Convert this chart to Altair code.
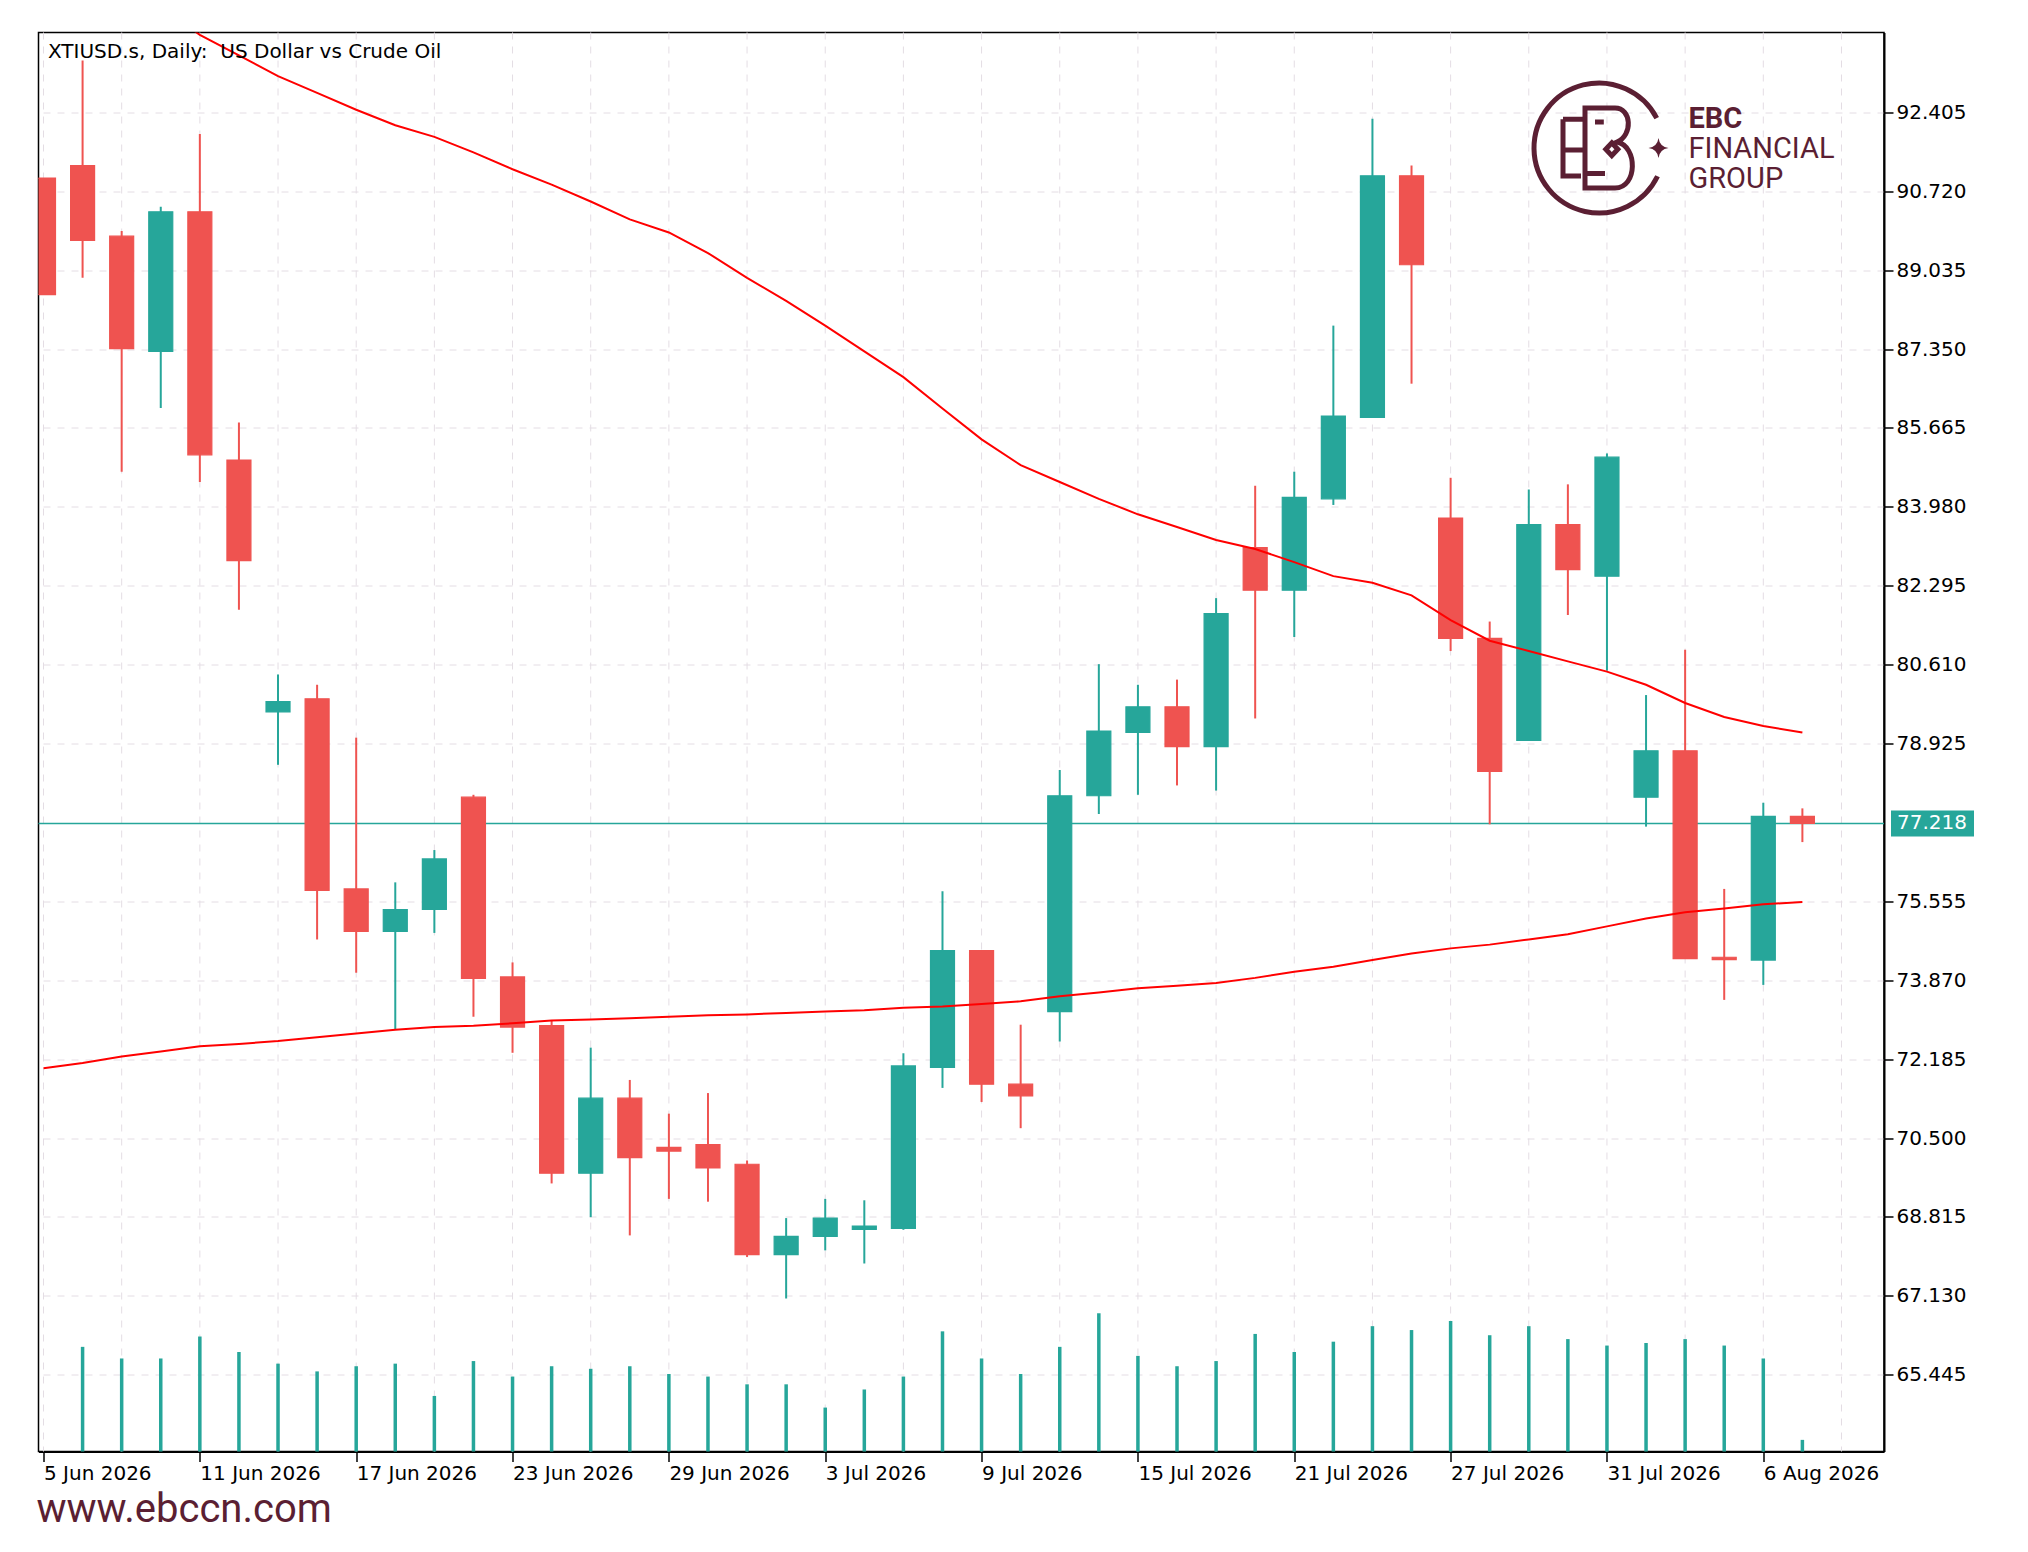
import json
import pandas as pd
import altair as alt

# ---------------- data ----------------
dates = [f"{d.day} {d.strftime('%b %Y')}" for d in pd.bdate_range("2026-06-05", periods=46)]

opens = [91.00, 91.27, 89.76, 87.30, 90.28, 84.98, 79.60, 79.88, 75.82, 74.91,
         75.38, 77.78, 73.94, 72.90, 69.75, 71.35, 70.30, 70.36, 69.94, 68.01,
         68.40, 68.55, 68.57, 72.01, 74.50, 71.65, 73.20, 77.81, 79.16, 79.71,
         78.86, 83.11, 82.20, 84.15, 85.89, 91.05, 83.74, 81.17, 78.99, 83.60,
         82.50, 77.78, 78.77, 74.36, 74.30, 77.37]
highs = [91.00, 93.51, 89.87, 90.39, 91.94, 85.78, 80.40, 80.18, 79.05, 75.96,
         76.65, 77.83, 74.25, 73.01, 72.43, 71.74, 71.02, 71.46, 70.02, 68.79,
         69.20, 69.17, 72.31, 75.77, 74.50, 72.92, 78.36, 80.62, 80.18, 80.29,
         82.03, 84.43, 84.73, 87.85, 92.27, 91.27, 84.60, 81.53, 84.35, 84.46,
         85.12, 79.96, 80.93, 75.82, 77.66, 77.54]
lows = [88.51, 88.87, 84.73, 86.09, 84.51, 81.78, 78.47, 74.74, 74.03, 72.81,
        74.88, 73.09, 72.32, 69.53, 68.81, 68.42, 69.20, 69.14, 67.96, 67.07,
        68.10, 67.82, 68.54, 71.57, 71.27, 70.71, 72.56, 77.42, 77.83, 78.03,
        77.92, 79.46, 81.20, 84.02, 85.89, 86.61, 80.90, 77.20, 78.99, 81.67,
        80.48, 77.15, 74.33, 73.45, 73.77, 76.82]
closes = [88.51, 89.67, 87.36, 90.28, 85.09, 82.83, 79.82, 75.79, 74.91, 75.38,
          76.46, 73.91, 72.87, 69.75, 71.35, 70.08, 70.22, 69.86, 68.01, 68.40,
          68.79, 68.62, 72.04, 74.50, 71.65, 71.40, 77.81, 79.19, 79.71, 78.86,
          81.70, 82.20, 84.18, 85.92, 91.05, 89.15, 81.17, 78.33, 83.60, 82.64,
          85.04, 78.77, 74.33, 74.31, 77.37, 77.218]

ma_slow = [None, None, None, 94.67, 94.06, 93.62, 93.18, 92.82, 92.46, 92.13,
           91.88, 91.55, 91.19, 90.86, 90.50, 90.12, 89.84, 89.40, 88.87, 88.38,
           87.85, 87.30, 86.75, 86.08, 85.42, 84.87, 84.51, 84.15, 83.82, 83.55,
           83.27, 83.08, 82.80, 82.50, 82.36, 82.09, 81.56, 81.12, 80.90, 80.68,
           80.46, 80.18, 79.79, 79.49, 79.30, 79.16]
ma_long = [71.99, 72.10, 72.24, 72.35, 72.46, 72.51, 72.57, 72.65, 72.73, 72.81,
           72.87, 72.90, 72.95, 73.01, 73.03, 73.06, 73.09, 73.12, 73.14, 73.17,
           73.20, 73.23, 73.28, 73.31, 73.36, 73.42, 73.53, 73.61, 73.70, 73.75,
           73.81, 73.92, 74.05, 74.16, 74.30, 74.44, 74.55, 74.63, 74.74, 74.85,
           75.02, 75.19, 75.32, 75.40, 75.49, 75.54]

volumes = [None, 81, 72, 72, 89, 77, 68, 62, 66, 68,
           43, 70, 58, 66, 64, 66, 60, 58, 52, 52,
           34, 48, 58, 93, 72, 60, 81, 107, 74, 66,
           70, 91, 77, 85, 97, 94, 101, 90, 97, 87,
           82, 84, 87, 82, 72, 9]

price_ticks = [92.405, 90.720, 89.035, 87.350, 85.665, 83.980, 82.295, 80.610,
               78.925, 77.240, 75.555, 73.870, 72.185, 70.500, 68.815, 67.130, 65.445]
price_ticks = [t for t in price_ticks if abs(t - 77.240) > 1e-9]  # hidden by the price tag
label_every = 4
grid_every = 2

title_text = "XTIUSD.s, Daily:\u00a0\u00a0US Dollar vs Crude Oil"
site_text = "www.ebccn.com"
brand_lines = ["EBC", "FINANCIAL", "GROUP"]

# ---------------- styling ----------------
W, H = 1845.5, 1419
UP, DOWN = "#26a69a", "#ef5350"
MA_COLOR = "#ff0000"
GRID = "#e4dde4"
BRAND = "#5b1f33"
FONT = "DejaVu Sans"

n = len(closes)
df = pd.DataFrame({"i": range(n), "date": dates, "open": opens, "high": highs,
                   "low": lows, "close": closes, "ma_slow": ma_slow, "ma_long": ma_long})
df["dir"] = ["up" if c >= o else "down" for o, c in zip(opens, closes)]
vol_df = pd.DataFrame({"i": range(n), "v": volumes}).dropna()
grid_df = pd.DataFrame({"g": list(range(0, 48, grid_every))})
last_close = closes[-1]

xscale = alt.Scale(domain=[0, 46.96], nice=False, zero=False)
label_expr = json.dumps(dates) + "[datum.value]"
xaxis = alt.Axis(values=list(range(0, n, label_every)), labelExpr=label_expr, grid=False,
                 tickSize=10, tickColor="black", tickWidth=1.5, domainColor="black",
                 domainWidth=2, labelAlign="left", labelBaseline="top", labelPadding=2,
                 labelFont=FONT, labelFontSize=20, labelColor="black", title=None,
                 labelFlush=False, labelOverlap=False)
yscale = alt.Scale(domain=[63.805, 94.11], nice=False, zero=False)
yaxis = alt.Axis(orient="right", values=price_ticks, format=".3f", grid=True,
                 gridDash=[7, 7], gridColor=GRID, gridWidth=1, tickSize=9,
                 tickColor="black", tickWidth=1.5, domainColor="black", domainWidth=2,
                 labelFont=FONT, labelFontSize=20, labelColor="black", labelPadding=3,
                 labelAlign="left", labelBaseline="middle", title=None,
                 labelOverlap=False, labelFlush=False)

X = alt.X("i:Q", scale=xscale, axis=xaxis)
color = alt.Color("dir:N", scale=alt.Scale(domain=["up", "down"], range=[UP, DOWN]), legend=None)

base = alt.Chart(df)

price_line = alt.Chart(pd.DataFrame({"p": [last_close]})).mark_rule(
    color=UP, strokeWidth=1.5).encode(y=alt.Y("p:Q", scale=yscale, axis=yaxis))

wicks = base.mark_rule(strokeWidth=2, clip=True).encode(
    x=X, y=alt.Y("low:Q", scale=yscale, axis=yaxis), y2="high:Q", color=color)
bodies = base.mark_bar(size=24, strokeWidth=1.2, clip=True).encode(
    x=X, y=alt.Y("open:Q", scale=yscale, axis=yaxis), y2="close:Q",
    color=color, stroke=color)

ma1 = base.transform_filter("isValid(datum.ma_slow)").mark_line(
    color=MA_COLOR, strokeWidth=2, clip=True).encode(
    x=X, y=alt.Y("ma_slow:Q", scale=yscale, axis=yaxis))
ma2 = base.mark_line(color=MA_COLOR, strokeWidth=2, clip=True).encode(
    x=X, y=alt.Y("ma_long:Q", scale=yscale, axis=yaxis))

tag_df = pd.DataFrame({"p": [last_close], "t": [f"{last_close:.3f}"]})
tag_box = alt.Chart(tag_df).mark_rect(color=UP, yOffset=-13, y2Offset=13).encode(
    x=alt.value(W + 7), x2=alt.value(W + 90),
    y=alt.Y("p:Q", scale=yscale, axis=yaxis), y2="p:Q")
tag_text = alt.Chart(tag_df).mark_text(
    align="left", baseline="middle", font=FONT, fontSize=20, color="white").encode(
    x=alt.value(W + 13), y=alt.Y("p:Q", scale=yscale, axis=yaxis), text="t:N")

one = pd.DataFrame({"k": [0]})
title_mark = alt.Chart(one).mark_text(
    align="left", baseline="middle", font=FONT, fontSize=20, color="black").encode(
    x=alt.value(9.5), y=alt.value(19.5), text=alt.value(title_text))

site_mark = alt.Chart(one).mark_text(
    align="left", baseline="middle", font="Roboto", fontSize=40, color=BRAND).encode(
    x=alt.value(-2), y=alt.value(H + 58), text=alt.value(site_text))

# ---- logo ----
ring_and_monogram = (
    "M1.443,-0.748 A1.625,1.625 0 1 0 1.463,0.707 "
    "M-0.9,-0.72 L-0.9,0.7 L-0.45,0.7 "
    "M-0.9,-0.72 L-0.35,-0.72 "
    "M-0.9,0.05 L-0.35,0.05 "
    "M-0.35,-1 L0.4,-1 C0.82,-1 0.85,-0.32 0.45,-0.15 "
    "C0.97,-0.05 0.97,1 0.4,1 L-0.35,1 Z "
    "M-0.1,-0.65 L0.12,-0.65 "
    "M0.32,-0.13 L0.47,0.03 L0.32,0.19 L0.17,0.03 Z "
    "M-0.35,0.64 L0.15,0.64"
)
logo = alt.Chart(one).mark_point(
    shape=ring_and_monogram, filled=False, stroke=BRAND, strokeWidth=5,
    size=6400, opacity=1).encode(x=alt.value(1560.5), y=alt.value(115.5))
star_path = "M0,-1 Q0.12,-0.12 1,0 Q0.12,0.12 0,1 Q-0.12,0.12 -1,0 Q-0.12,-0.12 0,-1 Z"
star = alt.Chart(one).mark_point(
    shape=star_path, filled=True, color=BRAND, size=400, opacity=1).encode(
    x=alt.value(1620), y=alt.value(115.5))
brand = []
for k, line in enumerate(brand_lines):
    brand.append(alt.Chart(one).mark_text(
        align="left", baseline="middle", font="Roboto", fontSize=29,
        fontWeight="bold" if k == 0 else "normal", color=BRAND).encode(
        x=alt.value(1650), y=alt.value(86 + 30 * k), text=alt.value(line)))

price_layer = alt.layer(price_line, wicks, bodies, ma1, ma2, tag_box, tag_text,
                        title_mark, site_mark, logo, star, *brand)

vgrid = alt.Chart(grid_df).mark_rule(strokeDash=[7, 7], color=GRID, strokeWidth=1).encode(
    x=alt.X("g:Q", scale=xscale, axis=xaxis))

vol = alt.Chart(vol_df).mark_rule(strokeWidth=3.5, color=UP).encode(
    x=X, y=alt.Y("v:Q", scale=alt.Scale(domain=[0, 1098.3], nice=False), axis=None),
    y2=alt.datum(0))

chart = alt.layer(vgrid, vol, price_layer).resolve_scale(y="independent").properties(
    width=W, height=H,
    autosize=alt.AutoSizeParams(type="none"),
    padding={"left": 30.5, "top": 24.5, "right": 136, "bottom": 92},
    background="white",
).configure_view(stroke="black", strokeWidth=1.5)

chart.save("out.html", embed_options={"renderer": "svg", "actions": False})
